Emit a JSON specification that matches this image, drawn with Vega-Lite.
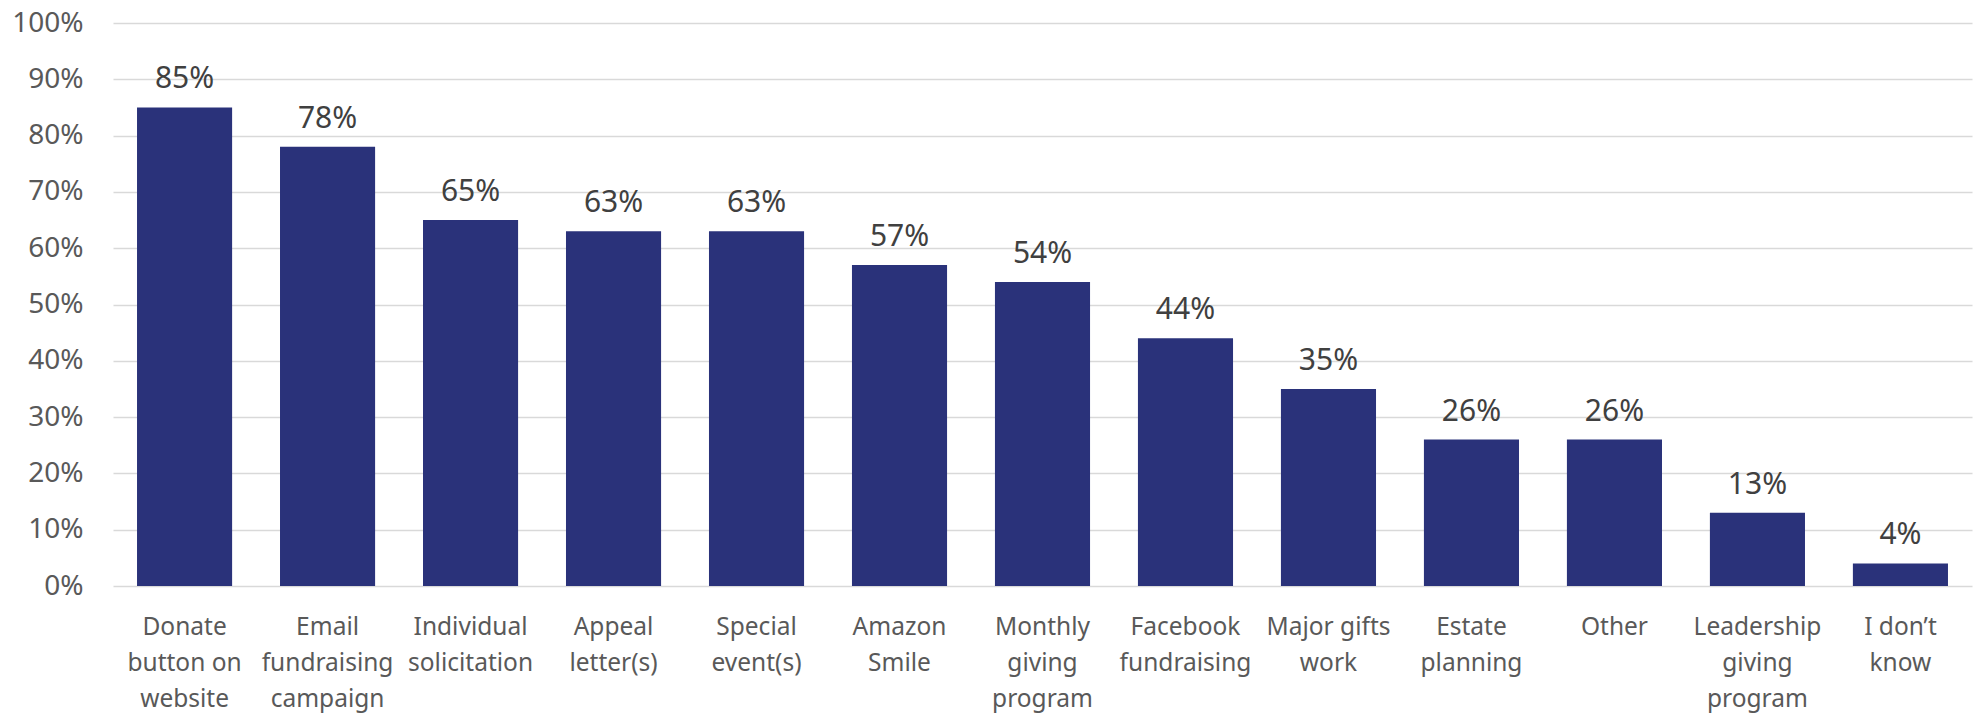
{
  "$schema": "https://vega.github.io/schema/vega-lite/v6.json",
  "autosize": "none",
  "width": 1859,
  "height": 563,
  "padding": {"left": 113, "top": 23, "right": 8, "bottom": 129},
  "background": "white",
  "config": {"view": {"stroke": null}, "font": "Noto Sans"},
  "data": {"values": [
    {"method": "Donate\nbutton on\nwebsite", "share": 0.85},
    {"method": "Email\nfundraising\ncampaign", "share": 0.78},
    {"method": "Individual\nsolicitation", "share": 0.65},
    {"method": "Appeal\nletter(s)", "share": 0.63},
    {"method": "Special\nevent(s)", "share": 0.63},
    {"method": "Amazon\nSmile", "share": 0.57},
    {"method": "Monthly\ngiving\nprogram", "share": 0.54},
    {"method": "Facebook\nfundraising", "share": 0.44},
    {"method": "Major gifts\nwork", "share": 0.35},
    {"method": "Estate\nplanning", "share": 0.26},
    {"method": "Other", "share": 0.26},
    {"method": "Leadership\ngiving\nprogram", "share": 0.13},
    {"method": "I don’t\nknow", "share": 0.04}
  ]},
  "encoding": {
    "x": {
      "field": "method", "type": "nominal", "sort": null,
      "scale": {"paddingInner": 0.335, "paddingOuter": 0.168},
      "axis": {
        "title": null, "labelAngle": 0, "domain": false, "ticks": false,
        "labelExpr": "split(datum.value, '\\n')",
        "labelFont": "Noto Sans", "labelFontSize": 24.5, "labelColor": "#595959",
        "labelLineHeight": 36, "labelPadding": 29, "labelBaseline": "top"
      }
    },
    "y": {
      "field": "share", "type": "quantitative",
      "scale": {"domain": [0, 1], "nice": false},
      "axis": {
        "title": null, "format": ".0%", "values": [0, 0.1, 0.2, 0.3, 0.4, 0.5, 0.6, 0.7, 0.8, 0.9, 1],
        "domain": false, "ticks": false, "gridColor": "#D9D9D9", "gridWidth": 1.5,
        "labelFont": "Noto Sans", "labelFontSize": 28, "labelColor": "#595959", "labelPadding": 30
      }
    }
  },
  "layer": [
    {"mark": {"type": "bar", "color": "#2A327A"}},
    {
      "mark": {"type": "text", "baseline": "bottom", "dy": -13, "fontSize": 30, "color": "#404040", "font": "Noto Sans"},
      "encoding": {"text": {"field": "share", "type": "quantitative", "format": ".0%"}}
    }
  ]
}
